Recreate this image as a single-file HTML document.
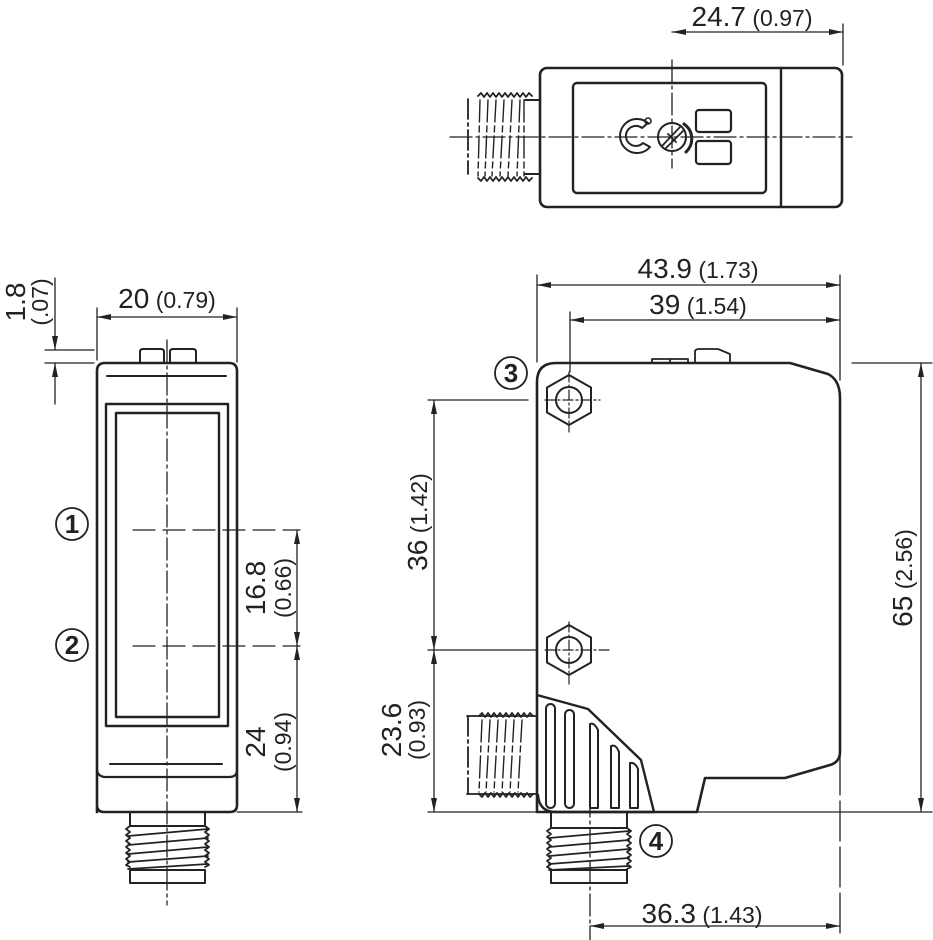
<!DOCTYPE html>
<html><head><meta charset="utf-8"><style>
html,body{margin:0;padding:0;background:#fff;}
svg{display:block;}
text{font-family:"Liberation Sans",Arial,sans-serif;fill:#222;}
.b{font-size:28px;}
.s{font-size:23px;}
.c{font-size:26px;}
</style></head><body>
<svg width="933" height="940" viewBox="0 0 933 940" xmlns="http://www.w3.org/2000/svg">
<defs>
<marker id="a" viewBox="0 0 14 6" refX="14" refY="3" markerWidth="14" markerHeight="6" orient="auto-start-reverse" markerUnits="userSpaceOnUse"><path d="M0,0 L14,3 L0,6 z" fill="#222"/></marker>
</defs>
<g fill="none" stroke="#222" stroke-linecap="round" stroke-linejoin="round">
<rect x="540" y="68" width="302" height="139" rx="7" stroke-width="2.6"/>
<line x1="781" y1="68" x2="781" y2="207" stroke-width="2.4"/>
<rect x="573" y="83" width="193" height="110" rx="4" stroke-width="2.4"/>
<line x1="525" y1="100" x2="540" y2="100" stroke-width="2"/>
<line x1="525" y1="174" x2="540" y2="174" stroke-width="2"/>
<path d="M468,99 L468,174" stroke-width="1.8" stroke-dasharray="20,4,3,4"/>
<path d="M478,96 l3,-3 l3,4 l3,-4 l3,4 l3,-4 l3,4 l3,-4 l3,4 l3,-4 l3,4 l3,-4 l3,4 l3,-4 l3,4 l3,-4 l3,4 l3,-4 l3,3" stroke-width="1.8"/>
<path d="M478,178 l3,3 l3,-4 l3,4 l3,-4 l3,4 l3,-4 l3,4 l3,-4 l3,4 l3,-4 l3,4 l3,-4 l3,4 l3,-4 l3,4 l3,-4 l3,4 l3,-3" stroke-width="1.8"/>
<path d="M480,100 L478,176 M488,100 L485,176 M496,100 L492,176 M504,100 L500,176 M512,100 L508,176 M520,100 L517,176 M524,100 L524,176" stroke-width="1.4" stroke-dasharray="22,4,6,4"/>
<path d="M648,123 A17,17 0 1 0 650,147 L643,143 A10,10 0 1 1 642,128 Z" stroke-width="2"/>
<circle cx="648" cy="121" r="3" stroke-width="1.6"/>
<circle cx="672" cy="137" r="14" stroke-width="2"/>
<path d="M662,146 L681,126 M666,148 L684,130 M668,134 L676,142" stroke-width="1.8"/>
<path d="M684,124 A18,18 0 0 1 686,152" stroke-width="3"/>
<rect x="696" y="110" width="35" height="22" rx="3" stroke-width="2.2"/>
<rect x="696" y="141" width="35" height="23" rx="3" stroke-width="2.2"/>
<line x1="450" y1="137" x2="852" y2="137" stroke-width="1.3" stroke-dasharray="22,4,3,4"/>
<line x1="672" y1="60" x2="672" y2="168" stroke-width="1.3" stroke-dasharray="22,4,3,4"/>
<line x1="843" y1="24" x2="843" y2="65" stroke-width="1.3"/>
<line x1="672" y1="32" x2="843" y2="32" stroke-width="1.3" marker-start="url(#a)" marker-end="url(#a)"/>

<path d="M97,812 L97,371 Q97,363 105,363 L229,363 Q237,363 237,371 L237,805 Q237,812 230,812 L104,812 Q97,812 97,805 Z" stroke-width="2.6"/>
<path d="M140,363 L140,352 Q140,349 143,349 L161,349 Q164,349 164,352 L164,363 M170,363 L170,352 Q170,349 173,349 L193,349 Q196,349 196,352 L196,363" stroke-width="2"/>
<line x1="107" y1="376" x2="226" y2="376" stroke-width="2"/>
<rect x="106" y="404" width="122" height="322" stroke-width="2.4"/>
<rect x="116" y="413" width="103" height="304" stroke-width="2.4"/>
<line x1="110" y1="764" x2="222" y2="764" stroke-width="2"/>
<path d="M97,770 Q98,777 106,777 L229,777 Q237,777 237,770" stroke-width="2.2"/>
<path d="M130,812 L130,826 M205,812 L205,826 M130,870 L130,883 L205,883 L205,870 M130,826 L205,826 M130,870 L205,870" stroke-width="2"/>
<path d="M130,826 l-4,3 l4,3 l-4,3 l4,3 l-4,3 l4,3 l-4,3 l4,3 l-4,3 l4,3 l-4,3 l4,3 l-4,3 l4,2 M205,826 l4,3 l-4,3 l4,3 l-4,3 l4,3 l-4,3 l4,3 l-4,3 l4,3 l-4,3 l4,3 l-4,3 l4,3 l-4,2" stroke-width="1.8"/>
<path d="M128,836 L208,829 M128,845 L208,838 M128,854 L208,847 M128,862 L208,856 M128,869 L208,864" stroke-width="1.8"/>
<line x1="167" y1="340" x2="167" y2="905" stroke-width="1.3" stroke-dasharray="22,4,3,4"/>
<line x1="133" y1="530" x2="300" y2="530" stroke-width="1.3" stroke-dasharray="22,8"/>
<line x1="133" y1="646" x2="300" y2="646" stroke-width="1.3" stroke-dasharray="22,8"/>
<line x1="237" y1="812" x2="302" y2="812" stroke-width="1.3"/>
<line x1="97" y1="308" x2="97" y2="360" stroke-width="1.3"/>
<line x1="237" y1="308" x2="237" y2="362" stroke-width="1.3"/>
<line x1="97" y1="317" x2="237" y2="317" stroke-width="1.3" marker-start="url(#a)" marker-end="url(#a)"/>
<line x1="45" y1="350" x2="94" y2="350" stroke-width="1.3"/>
<line x1="45" y1="363" x2="94" y2="363" stroke-width="1.3"/>
<line x1="55" y1="278" x2="55" y2="350" stroke-width="1.3" marker-end="url(#a)"/>
<line x1="55" y1="404" x2="55" y2="363" stroke-width="1.3" marker-end="url(#a)"/>
<line x1="297" y1="530" x2="297" y2="646" stroke-width="1.3" marker-start="url(#a)" marker-end="url(#a)"/>
<line x1="297" y1="646" x2="297" y2="812" stroke-width="1.3" marker-start="url(#a)" marker-end="url(#a)"/>
<circle cx="72" cy="524" r="16" stroke-width="1.8"/>
<circle cx="72" cy="645" r="16" stroke-width="1.8"/>

<path d="M537,812 L537,382 Q537,363 556,363 L790,363 L828,374 Q840,380 840,398 L840,752 Q840,762 830,765 L785,778 L705,778 L697,812 Z" stroke-width="2.6"/>
<path d="M652,363 L652,359 L688,359 L688,363 M670,359 L670,363 M695,363 L695,352 Q695,349 699,349 L718,349 L730,354 L730,363" stroke-width="1.8"/>
<polygon points="569,375 591,387.5 591,412.5 569,425 547,412.5 547,387.5" stroke-width="2"/>
<circle cx="569" cy="400" r="13" stroke-width="2"/>
<polygon points="569,625 591,637.5 591,662.5 569,675 547,662.5 547,637.5" stroke-width="2"/>
<circle cx="569" cy="650" r="13" stroke-width="2"/>
<line x1="569" y1="372" x2="569" y2="432" stroke-width="1.2" stroke-dasharray="10,3,2,3"/>
<line x1="569" y1="622" x2="569" y2="684" stroke-width="1.2" stroke-dasharray="10,3,2,3"/>
<line x1="545" y1="650" x2="610" y2="650" stroke-width="1.2" stroke-dasharray="10,3,2,3"/>
<line x1="545" y1="400" x2="600" y2="400" stroke-width="1.2" stroke-dasharray="10,3,2,3"/>
<path d="M537,695 L588,709 L641,760 L654,812 L556,812 Q539,812 538,795" stroke-width="2.4"/>
<rect x="546" y="704" width="9" height="104" rx="4.5" stroke-width="2"/>
<rect x="565" y="710" width="9" height="98" rx="4.5" stroke-width="2"/>
<path d="M590,808 L590,724 Q594,722 598,730 L598,808 Z" stroke-width="2"/>
<path d="M611,808 L611,746 Q616,744 619,752 L619,808 Z" stroke-width="2"/>
<path d="M630,808 L630,763 Q635,762 638,769 L638,808 Z" stroke-width="2"/>
<line x1="467" y1="716" x2="537" y2="716" stroke-width="1.8"/>
<line x1="467" y1="794" x2="537" y2="794" stroke-width="1.8"/>
<path d="M468,716 L468,794" stroke-width="1.8" stroke-dasharray="20,4,3,4"/>
<path d="M479,716 l3,-3 l3,4 l3,-4 l3,4 l3,-4 l3,4 l3,-4 l3,4 l3,-4 l3,4 l3,-4 l3,4 l3,-4 l3,4 l3,-4 l3,4 l3,-4 l3,3" stroke-width="1.8"/>
<path d="M479,794 l3,3 l3,-4 l3,4 l3,-4 l3,4 l3,-4 l3,4 l3,-4 l3,4 l3,-4 l3,4 l3,-4 l3,4 l3,-4 l3,4 l3,-4 l3,4 l3,-3" stroke-width="1.8"/>
<path d="M482,720 L479,792 M490,720 L486,792 M498,720 L494,792 M506,720 L502,792 M514,720 L510,792 M522,720 L518,792" stroke-width="1.4" stroke-dasharray="22,4,6,4"/>
<path d="M551,812 L551,828 M627,812 L627,828 M551,870 L551,883 L627,883 L627,870 M551,828 L627,828 M551,870 L627,870" stroke-width="2"/>
<path d="M551,828 l-4,3 l4,3 l-4,3 l4,3 l-4,3 l4,3 l-4,3 l4,3 l-4,3 l4,3 l-4,3 l4,3 l-4,3 l4,2 M627,828 l4,3 l-4,3 l4,3 l-4,3 l4,3 l-4,3 l4,3 l-4,3 l4,3 l-4,3 l4,3 l-4,3 l4,3 l-4,2" stroke-width="1.8"/>
<path d="M549,838 L629,831 M549,847 L629,840 M549,856 L629,849 M549,864 L629,858 M549,870 L629,866" stroke-width="1.8"/>
<line x1="590" y1="795" x2="590" y2="940" stroke-width="1.3" stroke-dasharray="22,4,3,4"/>
<line x1="840" y1="755" x2="840" y2="935" stroke-width="1.3" stroke-dasharray="40,6"/>
<line x1="537" y1="275" x2="537" y2="362" stroke-width="1.3"/>
<line x1="840" y1="275" x2="840" y2="380" stroke-width="1.3"/>
<line x1="537" y1="285" x2="840" y2="285" stroke-width="1.3" marker-start="url(#a)" marker-end="url(#a)"/>
<line x1="570" y1="312" x2="570" y2="372" stroke-width="1.3"/>
<line x1="570" y1="320" x2="840" y2="320" stroke-width="1.3" marker-start="url(#a)" marker-end="url(#a)"/>
<line x1="852" y1="363" x2="932" y2="363" stroke-width="1.3"/>
<line x1="660" y1="812" x2="932" y2="812" stroke-width="1.3"/>
<line x1="921" y1="363" x2="921" y2="812" stroke-width="1.3" marker-start="url(#a)" marker-end="url(#a)"/>
<line x1="428" y1="400" x2="528" y2="400" stroke-width="1.3"/>
<line x1="428" y1="650" x2="537" y2="650" stroke-width="1.3"/>
<line x1="428" y1="812" x2="537" y2="812" stroke-width="1.3"/>
<line x1="434" y1="400" x2="434" y2="650" stroke-width="1.3" marker-start="url(#a)" marker-end="url(#a)"/>
<line x1="434" y1="650" x2="434" y2="812" stroke-width="1.3" marker-start="url(#a)" marker-end="url(#a)"/>
<line x1="590" y1="926" x2="840" y2="926" stroke-width="1.3" marker-start="url(#a)" marker-end="url(#a)"/>
<circle cx="511" cy="373" r="16" stroke-width="1.8"/>
<circle cx="656" cy="841" r="16" stroke-width="1.8"/>
</g>
<g>
<text x="752" y="26" text-anchor="middle"><tspan class="b">24.7</tspan><tspan class="s"> (0.97)</tspan></text>
<text x="167" y="308" text-anchor="middle"><tspan class="b">20</tspan><tspan class="s"> (0.79)</tspan></text>
<text x="698" y="278" text-anchor="middle"><tspan class="b">43.9</tspan><tspan class="s"> (1.73)</tspan></text>
<text x="698" y="314" text-anchor="middle"><tspan class="b">39</tspan><tspan class="s"> (1.54)</tspan></text>
<text x="702" y="923" text-anchor="middle"><tspan class="b">36.3</tspan><tspan class="s"> (1.43)</tspan></text>
<text transform="translate(25,302) rotate(-90)" text-anchor="middle" class="b">1.8</text>
<text transform="translate(48,302) rotate(-90)" text-anchor="middle" class="s">(.07)</text>
<text transform="translate(265,588) rotate(-90)" text-anchor="middle" class="b">16.8</text>
<text transform="translate(291,588) rotate(-90)" text-anchor="middle" class="s">(0.66)</text>
<text transform="translate(265,742) rotate(-90)" text-anchor="middle" class="b">24</text>
<text transform="translate(291,742) rotate(-90)" text-anchor="middle" class="s">(0.94)</text>
<text transform="translate(427,522) rotate(-90)" text-anchor="middle"><tspan class="b">36</tspan><tspan class="s"> (1.42)</tspan></text>
<text transform="translate(401,730) rotate(-90)" text-anchor="middle" class="b">23.6</text>
<text transform="translate(425,730) rotate(-90)" text-anchor="middle" class="s">(0.93)</text>
<text transform="translate(912,578) rotate(-90)" text-anchor="middle"><tspan class="b">65</tspan><tspan class="s"> (2.56)</tspan></text>
<text x="72" y="533" text-anchor="middle" class="c" font-weight="bold">1</text>
<text x="72" y="654" text-anchor="middle" class="c" font-weight="bold">2</text>
<text x="511" y="382" text-anchor="middle" class="c" font-weight="bold">3</text>
<text x="656" y="850" text-anchor="middle" class="c" font-weight="bold">4</text>
</g>
</svg>
</body></html>
